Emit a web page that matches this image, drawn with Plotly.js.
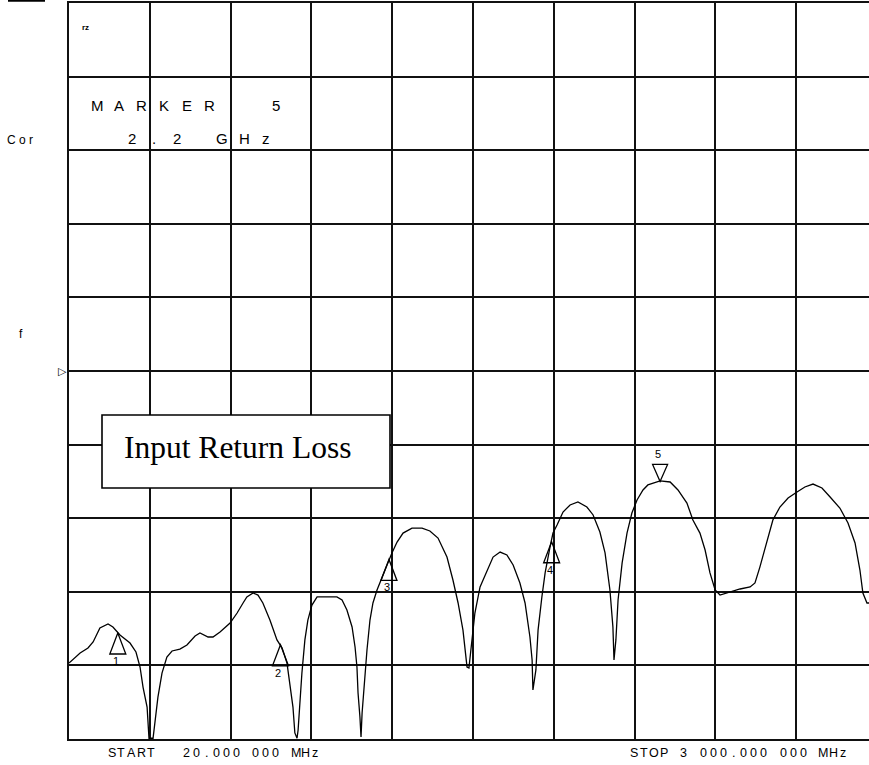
<!DOCTYPE html>
<html>
<head>
<meta charset="utf-8">
<script src="https://cdn.plot.ly/plotly-3.0.1.min.js"></script>
<style>html,body{margin:0;padding:0;background:#fff;overflow:hidden}</style>
</head>
<body>
<div id="chart" style="width:869px;height:765px"></div>
<script>
// Swept frequency (MHz) and input return loss (dB)
const freqMHz = [20,61,90,109,134,164,182,208,245,267,282,293,308,311,315,330,337,348,363,381,400,429,455,485,503,533,551,577,614,640,662,676,699,717,735,761,787,806,824,835,846,853,861,865,872,879,890,901,916,935,957,1008,1027,1045,1064,1075,1082,1086,1093,1097,1101,1108,1119,1130,1141,1156,1174,1193,1211,1230,1252,1285,1322,1351,1381,1414,1436,1455,1473,1488,1495,1506,1517,1536,1562,1584,1610,1635,1658,1683,1702,1720,1728,1731,1742,1750,1764,1776,1794,1805,1820,1842,1868,1897,1930,1953,1978,1997,2015,2026,2030,2037,2045,2060,2078,2096,2115,2137,2155,2174,2200,2237,2266,2299,2321,2347,2366,2384,2403,2421,2458,2495,2532,2550,2568,2594,2616,2642,2672,2705,2734,2764,2797,2827,2863,2893,2919,2937,2948,2963,2980];
const returnLossDb = [-19.84,-19.16,-18.82,-18.41,-17.46,-17.19,-17.39,-17.93,-18.48,-19.09,-20.11,-21.47,-22.83,-24.05,-24.95,-24.95,-23.91,-22.15,-20.52,-19.43,-19.02,-18.89,-18.61,-18.00,-17.80,-18.07,-18.07,-17.73,-17.12,-16.44,-15.76,-15.35,-15.08,-15.22,-15.76,-16.92,-18.27,-18.82,-19.84,-21.20,-22.83,-24.59,-24.95,-24.39,-22.35,-20.52,-18.27,-16.92,-15.90,-15.35,-15.35,-15.35,-15.56,-16.24,-17.39,-18.75,-20.11,-21.87,-23.51,-24.86,-23.23,-21.47,-18.95,-16.92,-15.76,-14.88,-13.99,-13.18,-12.36,-11.62,-11.01,-10.67,-10.67,-10.87,-11.35,-12.64,-14.20,-15.76,-17.60,-20.11,-20.18,-18.27,-16.44,-14.67,-13.52,-12.64,-12.30,-12.50,-13.18,-14.40,-15.76,-18.07,-19.63,-21.67,-20.31,-17.60,-15.35,-13.72,-11.96,-11.01,-10.46,-9.58,-9.10,-8.90,-9.24,-9.78,-10.94,-12.36,-14.88,-17.39,-19.63,-18.27,-15.56,-13.04,-11.01,-9.65,-8.76,-8.08,-7.74,-7.61,-7.47,-7.54,-8.08,-8.97,-10.12,-11.01,-12.16,-13.72,-14.88,-15.22,-15.01,-14.81,-14.67,-14.40,-13.32,-11.48,-10.12,-9.24,-8.63,-8.22,-7.88,-7.68,-7.95,-8.56,-9.31,-10.33,-11.68,-13.52,-15.08,-15.76,-15.76];

// Markers
const markerLabels = ['1','2','3','4','5'];
const markerMHz = [200, 800, 1200, 1800, 2200];
const markerDb = [-17.8, -18.6, -12.8, -11.6, -7.5];

// Text
const startText1 = 'START';
const startText2 = '20.000 000 MHz';
const stopText = 'STOP 3 000.000 000 MHz';
const markerLine1 = 'MARKER  5';
const markerLine2 = '2.2 GHz';
const boxTitle = 'Input Return Loss';

const startMHz = 20, divMHz = 298;

const px = x => (x - 69) / 800;
const py = y => (739 - y) / 736;
const sansFont = 'Liberation Sans, Arial, sans-serif';

function charRow(str, x0, pitch, y, size) {
  const out = [];
  for (let i = 0; i < str.length; i++) {
    const c = str[i];
    if (c === ' ') continue;
    out.push({
      xref: 'paper', yref: 'paper', x: px(x0 + i * pitch), y: py(y),
      xanchor: 'center', yanchor: 'middle', showarrow: false, text: c,
      font: {family: sansFont, size: size, color: '#000'}
    });
  }
  return out;
}

let annotations = [];
annotations = annotations.concat(charRow(markerLine1, 97, 22.4, 105, 15));
annotations = annotations.concat(charRow(markerLine2, 132, 22.4, 138, 15));
annotations = annotations.concat(charRow(startText1, 111.5, 9.95, 753, 12.5));
annotations = annotations.concat(charRow(startText2, 186.5, 9.92, 753, 12.5));
annotations = annotations.concat(charRow(stopText, 634, 9.95, 753, 12.5));

annotations.push({xref:'paper', yref:'paper', x: px(20), y: py(140), xanchor:'center', yanchor:'middle', showarrow:false,
  text:'C o r', font:{family:sansFont, size:12, color:'#000'}});
annotations.push({xref:'paper', yref:'paper', x: px(20.5), y: py(334), xanchor:'center', yanchor:'middle', showarrow:false,
  text:'f', font:{family:sansFont, size:12, color:'#000'}});
annotations.push({xref:'paper', yref:'paper', x: px(62), y: py(371), xanchor:'center', yanchor:'middle', showarrow:false,
  text:'▷', font:{family:'DejaVu Sans', size:11, color:'#000'}});
annotations.push({xref:'paper', yref:'paper', x: px(85), y: py(28), xanchor:'center', yanchor:'middle', showarrow:false,
  text:'<b>rz</b>', font:{family:sansFont, size:8, color:'#000'}});
annotations.push({xref:'paper', yref:'paper', x: px(122), y: py(447), xanchor:'left', yanchor:'middle', showarrow:false,
  text: boxTitle, font:{family:'Liberation Serif, Times New Roman, serif', size:31.5, color:'#000'}});

const shapes = [];
shapes.push({type:'rect', xref:'paper', yref:'paper', x0: px(102), x1: px(390), y0: py(488), y1: py(415),
  line:{color:'#000', width:1.6}, fillcolor:'#fff', layer:'above'});
shapes.push({type:'line', xref:'paper', yref:'paper', x0: px(8), x1: px(45), y0: py(0.8), y1: py(0.8),
  line:{color:'#000', width:2}});

for (let i = 0; i < markerLabels.length; i++) {
  const down = markerLabels[i] === '5';
  shapes.push({
    type:'path', xref:'x', yref:'y', xsizemode:'pixel', ysizemode:'pixel',
    xanchor: markerMHz[i], yanchor: markerDb[i],
    path: down ? 'M0,0 L-7.5,17 L7.5,17 Z' : 'M0,0 L-8,-21 L8,-21 Z',
    line:{color:'#000', width:1.3}, layer:'above'
  });
  annotations.push({
    xref:'x', yref:'y', x: markerMHz[i], y: markerDb[i], xshift: -2, yshift: down ? 27 : -28,
    showarrow:false, text: markerLabels[i], xanchor:'center', yanchor:'middle',
    font:{family:sansFont, size:11, color:'#000'}
  });
}

const trace = {
  type:'scatter', mode:'lines', x: freqMHz, y: returnLossDb,
  line:{color:'#000', width:1.3}, hoverinfo:'skip'
};

const layout = {
  width: 869, height: 765,
  margin: {l:69, r:0, t:3, b:26, pad:0},
  paper_bgcolor:'#fff', plot_bgcolor:'#fff',
  showlegend:false,
  xaxis: {range:[startMHz, startMHz + 9.901 * divMHz], tick0: startMHz, dtick: divMHz, tickmode:'linear',
    showgrid:true, gridcolor:'#111', gridwidth:2, showticklabels:false, ticks:'', zeroline:false,
    showline:true, mirror:true, linecolor:'#111', linewidth:2, fixedrange:true},
  yaxis: {range:[-25, 25], tick0:-25, dtick:5, tickmode:'linear',
    showgrid:true, gridcolor:'#111', gridwidth:2, showticklabels:false, ticks:'', zeroline:false,
    showline:true, mirror:false, linecolor:'#111', linewidth:2, fixedrange:true},
  annotations: annotations,
  shapes: shapes
};

Plotly.newPlot('chart', [trace], layout, {staticPlot:true, displayModeBar:false});
</script>
</body>
</html>
